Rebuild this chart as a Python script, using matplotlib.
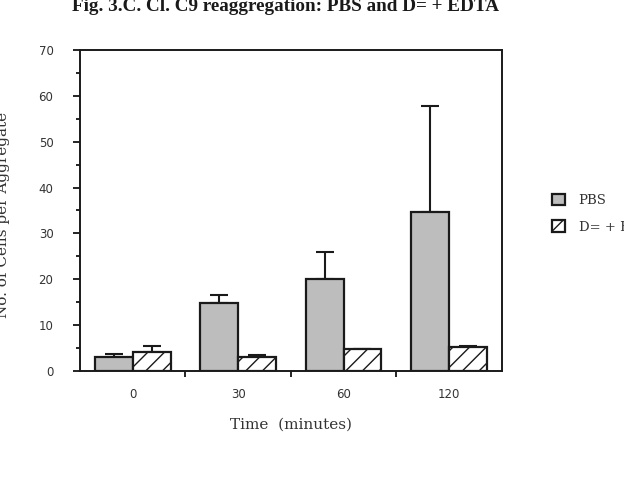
import matplotlib
matplotlib.use("Agg")
import matplotlib.pyplot as plt
import numpy as np

# Data
times = ["0", "30", "60", "120"]
pbs_mean = [3.1, 14.9, 20.0, 34.7]
pbs_err = [0.6, 1.6, 6.0, 23.0]
edta_mean = [4.1, 3.0, 4.9, 5.2]
edta_err = [1.3, 0.5, 0.0, 0.2]
series_names = ["PBS", "D= + EDTA"]

plt.rcParams["hatch.linewidth"] = 1.0

fig = plt.figure(figsize=(6.24, 4.91), dpi=100)
ax = fig.add_axes([0.128, 0.2444, 0.676, 0.654])

x = np.arange(len(times))
width = 0.36

ax.bar(x - width / 2, pbs_mean, width, color="#bdbdbd", edgecolor="#1a1a1a", linewidth=1.6, zorder=2)
ax.bar(x + width / 2, edta_mean, width, color="white", edgecolor="#1a1a1a", linewidth=1.6,
       hatch="//", zorder=2)

# One-sided (upward) error bars
ax.errorbar(x - width / 2, pbs_mean, yerr=[np.zeros(len(x)), pbs_err], fmt="none",
            ecolor="#1a1a1a", elinewidth=1.5, capsize=6.8, capthick=1.5, zorder=1)
ax.errorbar(x + width / 2, edta_mean, yerr=[np.zeros(len(x)), edta_err], fmt="none",
            ecolor="#1a1a1a", elinewidth=1.5, capsize=6.8, capthick=1.5, zorder=1)

ax.set_xlim(-0.5, 3.5)
ax.set_ylim(0, 70)

for side in ax.spines.values():
    side.set_linewidth(1.4)
    side.set_color("#1a1a1a")

ax.set_yticks(np.arange(0, 71, 10))
ax.set_yticks(np.arange(5, 70, 10), minor=True)
ax.tick_params(axis="y", which="major", direction="out", length=5, width=1.2, pad=14,
               labelsize=8.5, labelcolor="#333333")
ax.tick_params(axis="y", which="minor", direction="out", length=3, width=1.2)

ax.set_xticks(x)
ax.set_xticklabels(times)
ax.set_xticks([0.5, 1.5, 2.5], minor=True)
ax.tick_params(axis="x", which="major", length=0, pad=12, labelsize=8.5, labelcolor="#333333")
ax.tick_params(axis="x", which="minor", direction="out", length=4, width=1.2)
for lab in ax.get_xticklabels() + ax.get_yticklabels():
    lab.set_family("DejaVu Sans")

ax.set_xlabel("Time  (minutes)", family="DejaVu Serif", fontsize=11, color="#333333", labelpad=12)

# y label is partly cut by the left edge, as in the scanned original
fig.text(0.005, 0.562, "No. of Cells per Aggregate", rotation=90, ha="center", va="center",
         family="DejaVu Serif", fontsize=11, color="#333333")

# title sits at the very top edge, caps partly cut off
fig.text(0.457, 0.9785, "Fig. 3.C. Cl. C9 reaggregation: PBS and D= + EDTA", ha="center",
         va="baseline", family="Liberation Serif", fontweight="bold", fontsize=13.8, color="#1a1a1a")

leg = fig.legend(handles=ax.patches[:1] + ax.patches[len(times):len(times) + 1],
                 labels=series_names, loc="upper left", bbox_to_anchor=(0.866, 0.63),
                 frameon=False, handlelength=1.0, handleheight=1.0, handletextpad=1.0,
                 labelspacing=1.0, prop={"family": "DejaVu Serif", "size": 9.5})
for t in leg.get_texts():
    t.set_color("#333333")

fig.savefig("out.png", dpi=100)
